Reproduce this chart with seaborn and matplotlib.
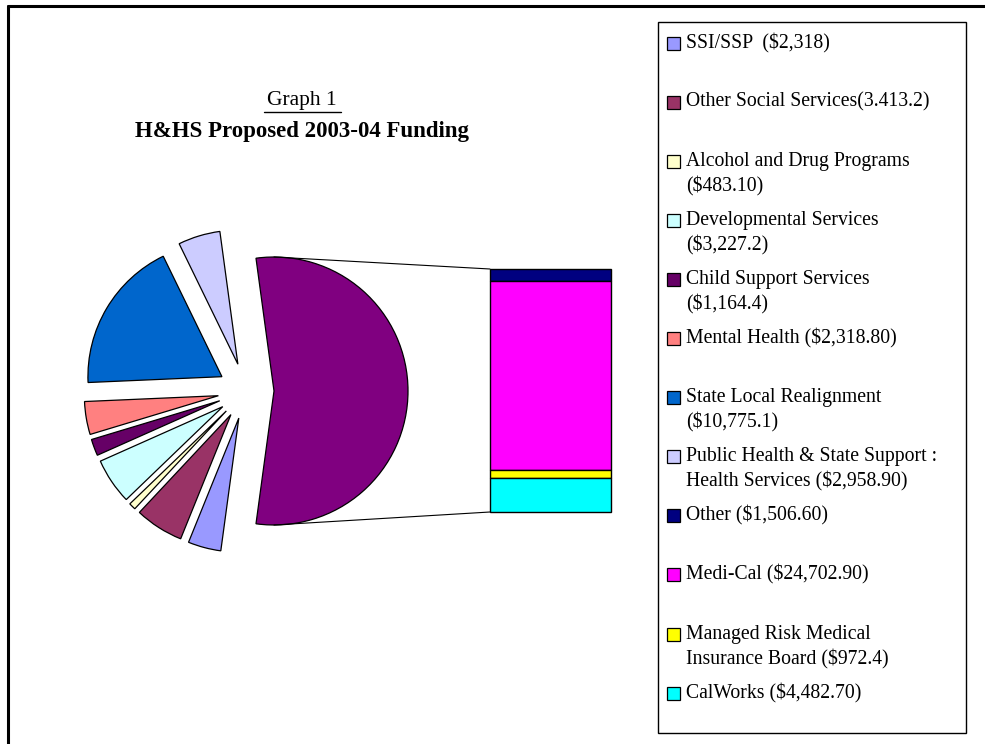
import matplotlib
matplotlib.use("Agg")
import matplotlib.pyplot as plt
import seaborn as sns
from matplotlib.patches import Rectangle
from matplotlib.lines import Line2D
import numpy as np

sns.set_theme(style="white")
plt.rcParams['font.family'] = ['Liberation Serif', 'DejaVu Serif']
plt.rcParams['text.color'] = 'black'

# ---- data (millions $) ----
pie_labels = ['SSI/SSP', 'Other Social Services', 'Alcohol and Drug Programs',
              'Developmental Services', 'Child Support Services', 'Mental Health',
              'State Local Realignment', 'Public Health & State Support : Health Services']
pie_values = [2318, 3413.2, 483.1, 3227.2, 1164.4, 2318.8, 10775.1, 2958.9]
pie_colors = ['#9999FF', '#993366', '#FFFFCC', '#CCFFFF', '#660066', '#FF8080',
              '#0066CC', '#CCCCFF']

bar_labels = ['Other', 'Medi-Cal', 'Managed Risk Medical Insurance Board', 'CalWorks']
bar_values = [1506.6, 24702.9, 972.4, 4482.7]
bar_colors = ['#000080', '#FF00FF', '#FFFF00', '#00FFFF']
other_color = '#800080'

legend_text = [
    ['SSI/SSP  ($2,318)'],
    ['Other Social Services(3.413.2)'],
    ['Alcohol and Drug Programs', '($483.10)'],
    ['Developmental Services', '($3,227.2)'],
    ['Child Support Services', '($1,164.4)'],
    ['Mental Health ($2,318.80)'],
    ['State Local Realignment', '($10,775.1)'],
    ['Public Health & State Support :', 'Health Services ($2,958.90)'],
    ['Other ($1,506.60)'],
    ['Medi-Cal ($24,702.90)'],
    ['Managed Risk Medical', 'Insurance Board ($972.4)'],
    ['CalWorks ($4,482.70)'],
]
legend_colors = pie_colors + bar_colors

W, H = 985, 744
fig = plt.figure(figsize=(W / 100, H / 100), dpi=100)
ax = fig.add_axes([0, 0, 1, 1])

def Y(py):
    # pixel row -> data y
    return H - py

# ---- pie (combined "other" slice first, centred on the right) ----
other_total = sum(bar_values)
vals = [other_total] + pie_values
cols = [other_color] + pie_colors
frac0 = other_total / sum(vals)
wedges, _ = ax.pie(vals, colors=cols, center=(246, Y(391)), radius=134,
                   explode=[28] * len(vals), startangle=frac0 * 180,
                   counterclock=False,
                   wedgeprops=dict(edgecolor='black', linewidth=0.9))

# ---- stacked bar of the "other" slice ----
bar_x, bar_w = 550.5, 121
bar_bottom, bar_h = Y(512), 243
scale = bar_h / other_total
tops = np.cumsum(bar_values[::-1])[::-1]   # top of each segment from bottom
for v, c, t in zip(bar_values, bar_colors, tops):
    ax.bar(bar_x, v * scale, width=bar_w, bottom=bar_bottom + (t - v) * scale,
           color=c, edgecolor='black', linewidth=1.0)

# connector lines
cx, cy = wedges[0].center
r = wedges[0].r
ax.plot([cx, bar_x - bar_w / 2], [cy + r, bar_bottom + bar_h], color='black', lw=0.8)
ax.plot([cx, bar_x - bar_w / 2], [cy - r, bar_bottom], color='black', lw=0.8)

ax.set_xlim(0, W)
ax.set_ylim(0, H)
ax.set_aspect('equal')
ax.axis('off')

# ---- titles ----
ax.text(302, Y(101), 'Graph 1', ha='center', va='center', fontsize=15.5)
ax.add_line(Line2D([264, 341], [Y(112), Y(112)], color='black', lw=1))
ax.text(302, Y(132), 'H&HS Proposed 2003-04 Funding', ha='center', va='center',
        fontsize=16.5, fontweight='bold')

# ---- outer frame ----
ax.add_line(Line2D([8, 8], [Y(6), 0], color='black', lw=2.2))
ax.add_line(Line2D([8, W], [Y(6), Y(6)], color='black', lw=2.2))

# ---- legend ----
ax.add_patch(Rectangle((658, Y(733)), 308, 711, facecolor='white',
                       edgecolor='black', lw=1.0))
for i, (lines, c) in enumerate(zip(legend_text, legend_colors)):
    yc = 43 + 59.1 * i
    ax.add_patch(Rectangle((667, Y(yc + 6.5)), 13, 13, facecolor=c,
                           edgecolor='black', lw=0.9))
    for j, ln in enumerate(lines):
        ax.text(686, Y(yc + 25 * j), ln, ha='left', va='center', fontsize=14.2)

fig.savefig('out.png', dpi=100)
